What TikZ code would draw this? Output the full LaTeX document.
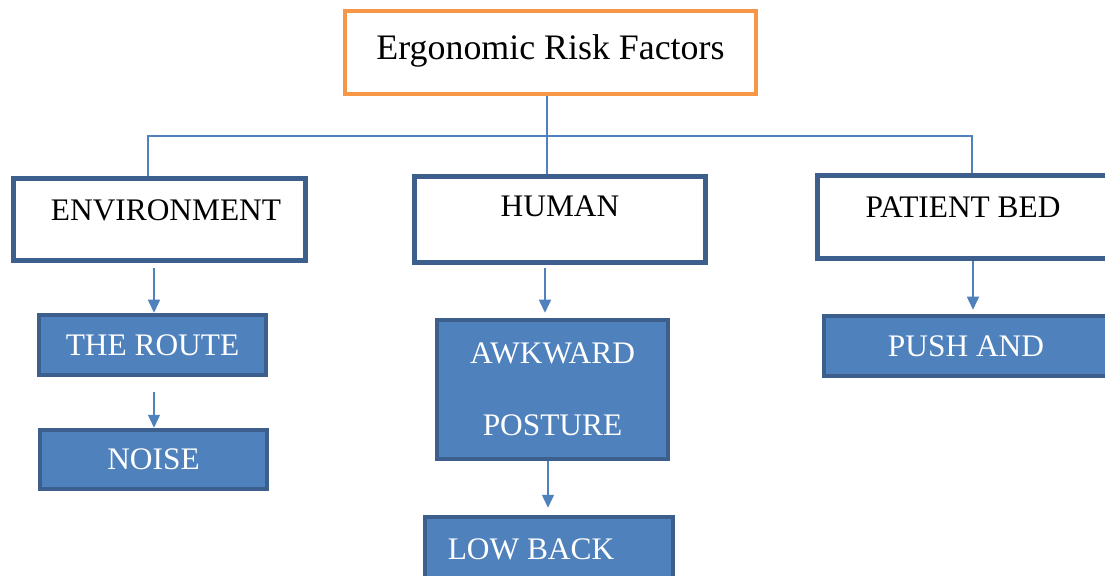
\documentclass[tikz,border=0pt]{standalone}
\usepackage{fontspec}
\setmainfont{Liberation Serif}
\usetikzlibrary{arrows.meta}
\definecolor{orangeB}{HTML}{F79646}
\definecolor{blueL}{HTML}{4F81BD}
\definecolor{blueD}{HTML}{3C5F8E}
\begin{document}
\begin{tikzpicture}[x=1bp,y=-1bp,
  titlebox/.style={draw=orangeB, line width=4.5bp, fill=white, rectangle, inner sep=0pt,
    font=\fontsize{36}{42}\selectfont},
  catbox/.style={draw=blueD, line width=5.5bp, fill=white, rectangle, inner sep=0pt,
    font=\fontsize{31.5}{36}\selectfont},
  itembox/.style={draw=blueD, line width=4.5bp, fill=blueL, text=white, rectangle, inner sep=0pt,
    font=\fontsize{31.5}{72}\selectfont},
  conn/.style={draw=blueL, line width=1.5bp},
  arr/.style={conn, -{Triangle[length=13bp,width=12bp]}}
]
\clip (0,0) rectangle (1105,576);
\fill[white] (0,0) rectangle (1105,576);

\node[titlebox, minimum width=411bp, minimum height=83bp] (top) at (550.5,52.5) {\raisebox{10bp}{Ergonomic Risk Factors}};

\node[catbox, minimum width=292bp, minimum height=82bp] (env) at (159.5,219.5) {\raisebox{18bp}{\hspace*{13bp}ENVIRONMENT}};
\node[catbox, minimum width=291bp, minimum height=86bp] (human) at (560,219.5) {\raisebox{27.5bp}{HUMAN}};
\node[catbox, minimum width=291bp, minimum height=83bp] (patient) at (963,217) {\raisebox{19bp}{PATIENT BED}};

\node[itembox, minimum width=227bp, minimum height=60bp] (route) at (152.5,345) {THE ROUTE};
\node[itembox, minimum width=227bp, minimum height=59bp] (noise) at (153.5,459.5) {NOISE};
\node[itembox, minimum width=231bp, minimum height=139bp, align=center] (awk) at (552.5,389.5) {AWKWARD\\POSTURE};
\node[itembox, minimum width=248bp, minimum height=81bp] (low) at (549,557.5) {\raisebox{17.5bp}{\hspace*{-36bp}LOW BACK}};
\node[itembox, minimum width=284bp, minimum height=60bp] (push) at (966,346) {PUSH AND};

\coordinate (bus) at (547,136);
\coordinate (jl) at (148,136);
\coordinate (jr) at (972,136);
\draw[conn] (top.south -| bus) -- (human.north -| bus);
\draw[conn] (env.north -| jl) -- (jl) -- (jr) -- (patient.north -| jr);

\coordinate (a1) at (154,0);
\coordinate (a2) at (545,0);
\coordinate (a3) at (548,0);
\coordinate (a4) at (973,0);
\draw[arr, shorten <=5bp] (env.south -| a1) -- (route.north -| a1);
\draw[arr, shorten <=15bp] (route.south -| a1) -- (noise.north -| a1);
\draw[arr, shorten <=3bp, shorten >=5bp] (human.south -| a2) -- (awk.north -| a2);
\draw[arr, shorten >=7bp] (awk.south -| a3) -- (low.north -| a3);
\draw[arr, shorten >=4bp] (patient.south -| a4) -- (push.north -| a4);
\end{tikzpicture}
\end{document}
